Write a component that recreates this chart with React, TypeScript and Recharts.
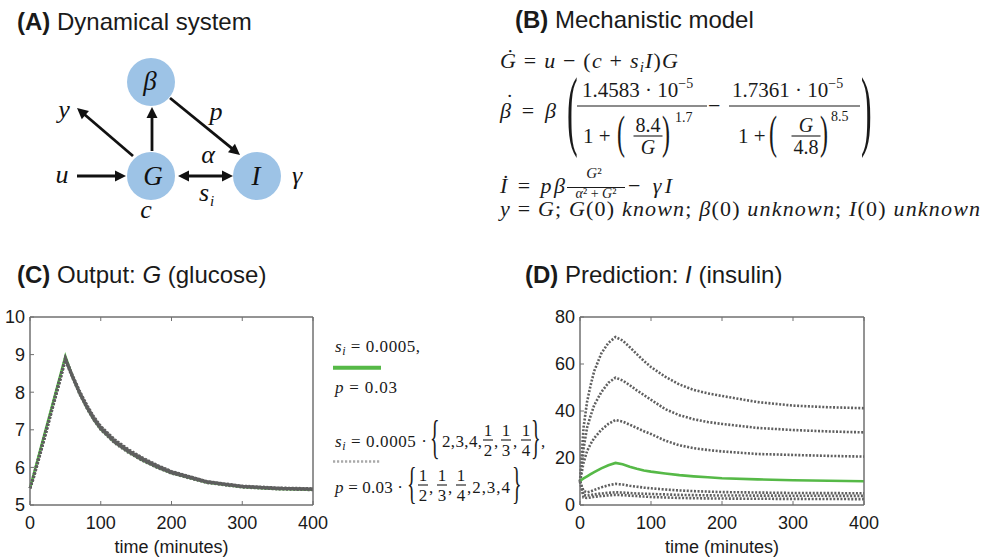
import React from 'react';
import { LineChart, Line, XAxis, YAxis, ReferenceArea } from 'recharts';

// sampling times (minutes)
const time = [0, 5, 10, 15, 20, 30, 40, 50, 60, 70, 80, 90, 100, 120, 140, 160, 180, 200, 250, 300, 350, 400];

// (C) glucose: nominal fit and the six parameter variants
const glucoseFit = [5.45, 5.8, 6.15, 6.5, 6.85, 7.55, 8.25, 8.95, 8.42, 7.98, 7.6, 7.28, 7.02, 6.66, 6.4, 6.18, 6.0, 5.85, 5.6, 5.48, 5.43, 5.41];
const glucoseVar1 = [5.45, 5.74, 6.08, 6.42, 6.77, 7.47, 8.17, 8.88, 8.42, 7.99, 7.62, 7.3, 7.04, 6.68, 6.42, 6.2, 6.02, 5.86, 5.61, 5.49, 5.44, 5.42];
const glucoseVar2 = [5.45, 5.72, 6.06, 6.4, 6.75, 7.45, 8.15, 8.86, 8.4, 7.97, 7.6, 7.28, 7.02, 6.66, 6.4, 6.18, 6.0, 5.85, 5.6, 5.48, 5.43, 5.41];
const glucoseVar3 = [5.45, 5.7, 6.04, 6.38, 6.73, 7.43, 8.13, 8.84, 8.38, 7.95, 7.58, 7.26, 7.0, 6.64, 6.38, 6.17, 5.99, 5.84, 5.59, 5.47, 5.42, 5.4];
const glucoseVar4 = [5.45, 5.78, 6.12, 6.46, 6.81, 7.51, 8.21, 8.92, 8.44, 8.01, 7.64, 7.32, 7.06, 6.7, 6.44, 6.22, 6.04, 5.88, 5.62, 5.5, 5.45, 5.43];
const glucoseVar5 = [5.45, 5.77, 6.11, 6.45, 6.8, 7.5, 8.2, 8.91, 8.45, 8.02, 7.66, 7.34, 7.08, 6.72, 6.45, 6.23, 6.05, 5.89, 5.63, 5.5, 5.45, 5.43];
const glucoseVar6 = [5.45, 5.76, 6.1, 6.44, 6.79, 7.49, 8.19, 8.9, 8.46, 8.04, 7.68, 7.36, 7.1, 6.74, 6.47, 6.25, 6.06, 5.9, 5.63, 5.51, 5.46, 5.44];

// (D) insulin predictions
const insulinFit = [10.3, 11.3, 12.2, 13.1, 14.0, 15.6, 16.9, 17.9, 17.3, 16.3, 15.4, 14.7, 14.2, 13.4, 12.7, 12.2, 11.8, 11.4, 10.9, 10.5, 10.3, 10.1];
const insulinVar1 = [10, 33, 44, 51, 57, 64.5, 69, 71.5, 70.0, 67.2, 64.2, 61.3, 58.7, 54.6, 51.3, 49.0, 47.5, 46.4, 43.8, 42.3, 41.6, 41.2];
const insulinVar2 = [10, 24, 33, 38, 42.5, 48, 52, 54.2, 53, 51, 48.8, 46.8, 44.8, 40.8, 38.2, 36.5, 35.3, 34.5, 32.8, 31.9, 31.3, 30.9];
const insulinVar3 = [10, 18, 23, 26, 28.5, 32, 34.5, 36.2, 35.5, 34.2, 32.8, 31.4, 30.2, 27.4, 25.4, 24.2, 23.4, 22.8, 21.7, 21.3, 20.9, 20.6];
const insulinVar4 = [10, 6.0, 5.4, 5.8, 6.4, 7.5, 8.4, 9.0, 8.7, 8.2, 7.8, 7.4, 7.1, 6.6, 6.2, 5.9, 5.7, 5.5, 5.3, 5.1, 5.05, 5.0];
const insulinVar5 = [10, 4.3, 4.0, 4.2, 4.5, 4.9, 5.2, 5.4, 5.3, 5.1, 4.9, 4.8, 4.7, 4.5, 4.3, 4.2, 4.1, 4.05, 4.0, 3.95, 3.9, 3.9];
const insulinVar6 = [10, 3.2, 3.0, 3.2, 3.5, 3.8, 4.1, 4.3, 4.2, 4.0, 3.8, 3.6, 3.4, 3.2, 3.0, 2.9, 2.8, 2.75, 2.65, 2.6, 2.55, 2.5];

const timeTicks = [0, 100, 200, 300, 400];
const glucoseTicks = [5, 6, 7, 8, 9, 10];
const insulinTicks = [0, 20, 40, 60, 80];

const glucoseData = time.map((t, i) => ({
  t, fit: glucoseFit[i],
  v1: glucoseVar1[i], v2: glucoseVar2[i], v3: glucoseVar3[i],
  v4: glucoseVar4[i], v5: glucoseVar5[i], v6: glucoseVar6[i],
}));
const insulinData = time.map((t, i) => ({
  t, fit: insulinFit[i],
  v1: insulinVar1[i], v2: insulinVar2[i], v3: insulinVar3[i],
  v4: insulinVar4[i], v5: insulinVar5[i], v6: insulinVar6[i],
}));
const variantKeys = ['v1', 'v2', 'v3', 'v4', 'v5', 'v6'];

const SANS = "'Liberation Sans', Arial, Helvetica, sans-serif";
const SERIF = "'Liberation Serif', 'Times New Roman', serif";
const INK = '#1a1a1a';
const FRAME = '#707070';
const GREEN = '#56b947';
const DOTS = '#5f5f5f';
const BLUE = '#9dc3e6';

// MATLAB-like box: inward ticks on all four sides plus a border rectangle
function frameAxes(yTicks: number[], yDomain: [number, number]) {
  const tickFont = { fill: INK, fontSize: 18, fontFamily: SANS };
  return [
    <XAxis key="xb" dataKey="t" type="number" domain={[0, 400]} ticks={timeTicks} interval={0}
      height={50} stroke={FRAME} tickSize={-4} tickMargin={15} tick={tickFont}
      label={{ value: 'time (minutes)', position: 'insideBottom', offset: 2, fill: INK, fontSize: 18, fontFamily: SANS }} />,
    <XAxis key="xt" xAxisId="top" orientation="top" dataKey="t" type="number" domain={[0, 400]}
      ticks={timeTicks} interval={0} height={1} stroke={FRAME} tickSize={-4} tickFormatter={() => ''} />,
    <YAxis key="yl" type="number" domain={yDomain} ticks={yTicks} interval={0} width={30}
      stroke={FRAME} tickSize={-4} tickMargin={9} tick={tickFont} />,
    <YAxis key="yr" yAxisId="right" orientation="right" type="number" domain={yDomain} ticks={yTicks}
      interval={0} width={1} stroke={FRAME} tickSize={-4} tickFormatter={() => ''} />,
    <ReferenceArea key="box" x1={0} x2={400} y1={yDomain[0]} y2={yDomain[1]} fill="none" fillOpacity={0}
      stroke={FRAME} strokeWidth={1} ifOverflow="visible" />,
  ];
}

const It = ({ children }: { children: React.ReactNode }) => <tspan fontStyle="italic">{children}</tspan>;

// tall bracket glyph, stretched vertically between top and bottom
function Tall({ x, top, bottom, ch, fs }: { x: number; top: number; bottom: number; ch: string; fs: number }) {
  const asc = 0.69 * fs, desc = 0.2 * fs;
  const sy = (bottom - top) / (asc + desc);
  const y = bottom - desc * sy;
  return <text transform={`translate(${x},${y}) scale(1,${sy})`} fontSize={fs}>{ch}</text>;
}

function Frac({ cx, bar, n, d, fs, w }: { cx: number; bar: number; n: React.ReactNode; d: React.ReactNode; fs: number; w: number }) {
  return (
    <g>
      <text x={cx} y={bar - 4} fontSize={fs} textAnchor="middle">{n}</text>
      <line x1={cx - w / 2} x2={cx + w / 2} y1={bar} y2={bar} stroke={INK} strokeWidth={1.1} />
      <text x={cx} y={bar + fs * 0.72 + 4} fontSize={fs} textAnchor="middle">{d}</text>
    </g>
  );
}

function Arrow({ x1, y1, x2, y2, both = false }: { x1: number; y1: number; x2: number; y2: number; both?: boolean }) {
  const len = Math.hypot(x2 - x1, y2 - y1);
  const ux = (x2 - x1) / len, uy = (y2 - y1) / len;
  const hl = 11, hw = 5.5;
  const head = (tx: number, ty: number, sx: number, sy: number) => {
    const bx = tx - sx * hl, by = ty - sy * hl;
    return `${tx},${ty} ${bx - sy * hw},${by + sx * hw} ${bx + sy * hw},${by - sx * hw}`;
  };
  const sx = both ? x1 + ux * hl * 0.8 : x1, sy = both ? y1 + uy * hl * 0.8 : y1;
  return (
    <g fill="#111">
      <line x1={sx} y1={sy} x2={x2 - ux * hl * 0.8} y2={y2 - uy * hl * 0.8} stroke="#111" strokeWidth={2.8} />
      <polygon points={head(x2, y2, ux, uy)} />
      {both && <polygon points={head(x1, y1, -ux, -uy)} />}
    </g>
  );
}

function Title({ x, y, tag, children }: { x: number; y: number; tag: string; children: React.ReactNode }) {
  return (
    <text x={x} y={y} fontFamily={SANS} fontSize={24} fill={INK}>
      <tspan fontWeight="bold">{tag}</tspan> {children}
    </text>
  );
}

function Overlay() {
  return (
    <svg width={985} height={558} style={{ position: 'absolute', left: 0, top: 0 }}>
      <Title x={17} y={30} tag="(A)">Dynamical system</Title>
      <Title x={515} y={28} tag="(B)">Mechanistic model</Title>
      <Title x={17} y={283} tag="(C)">Output: <It>G</It> (glucose)</Title>
      <Title x={525} y={283} tag="(D)">Prediction: <It>I</It> (insulin)</Title>

      {/* (A) diagram */}
      <Arrow x1={77} y1={176} x2={126} y2={176} />
      <Arrow x1={133} y1={156} x2={77} y2={108} />
      <Arrow x1={152} y1={151} x2={152} y2={107} />
      <Arrow x1={170} y1={98} x2={240} y2={155} />
      <Arrow x1={178} y1={176} x2={233} y2={176} both />
      <circle cx={151} cy={82} r={24} fill={BLUE} />
      <circle cx={151} cy={176} r={24} fill={BLUE} />
      <circle cx={257} cy={176} r={24} fill={BLUE} />
      <g fontFamily={SERIF} fontStyle="italic" fill="#111" textAnchor="middle">
        <text x={150} y={90} fontSize={27}>β</text>
        <text x={153} y={185} fontSize={27}>G</text>
        <text x={256} y={185} fontSize={27}>I</text>
        <text x={64} y={118} fontSize={26}>y</text>
        <text x={62} y={183} fontSize={26}>u</text>
        <text x={146} y={218} fontSize={26}>c</text>
        <text x={208} y={163} fontSize={26}>α</text>
        <text x={216} y={120} fontSize={26}>p</text>
        <text x={297} y={184} fontSize={26}>γ</text>
        <text x={204} y={201} fontSize={26}>s</text>
        <text x={212} y={206} fontSize={15}>i</text>
      </g>

      {/* (B) equations */}
      <g fontFamily={SERIF} fill={INK}>
        <text x={500} y={68} fontSize={22} textLength={178} lengthAdjust="spacing">
          <It>Ġ</It> = <It>u</It> − (<It>c</It> + <It>s</It><tspan fontSize={15} fontStyle="italic" dy={4}>i</tspan><tspan dy={-4} fontStyle="italic">I</tspan>)<It>G</It>
        </text>

        <text x={500} y={118} fontSize={22} textLength={56} lengthAdjust="spacing"><It>β</It> = <It>β</It></text>
        <text x={506} y={109} fontSize={22}>˙</text>
        <Tall x={567} top={78} bottom={157} ch="(" fs={32} />
        <text x={582} y={97} fontSize={21}>1.4583 · 10<tspan fontSize={14} dy={-9}>−5</tspan></text>
        <line x1={577} x2={707} y1={106} y2={106} stroke={INK} strokeWidth={1.2} />
        <text x={583} y={143} fontSize={21}>1 +</text>
        <Tall x={617} top={115} bottom={157} ch="(" fs={24} />
        <Frac cx={648} bar={136} n="8.4" d={<It>G</It>} fs={20} w={29} />
        <Tall x={662} top={115} bottom={157} ch=")" fs={24} />
        <text x={675} y={122} fontSize={14}>1.7</text>
        <text x={708} y={113} fontSize={22}>−</text>
        <text x={732} y={97} fontSize={21}>1.7361 · 10<tspan fontSize={14} dy={-9}>−5</tspan></text>
        <line x1={729} x2={860} y1={106} y2={106} stroke={INK} strokeWidth={1.2} />
        <text x={738} y={143} fontSize={21}>1 +</text>
        <Tall x={769} top={115} bottom={157} ch="(" fs={24} />
        <Frac cx={806} bar={136} n={<It>G</It>} d="4.8" fs={20} w={29} />
        <Tall x={820} top={115} bottom={157} ch=")" fs={24} />
        <text x={831} y={121} fontSize={14}>8.5</text>
        <Tall x={861} top={78} bottom={157} ch=")" fs={32} />

        <text x={500} y={193} fontSize={22} textLength={65} lengthAdjust="spacing"><It>İ</It> = <It>pβ</It></text>
        <text x={594} y={178} fontSize={15} textAnchor="middle"><It>G</It>²</text>
        <line x1={567} x2={625} y1={187.5} y2={187.5} stroke={INK} strokeWidth={1} />
        <text x={596} y={198} fontSize={14} textAnchor="middle"><It>α</It>² + <It>G</It>²</text>
        <text x={628} y={193} fontSize={22} textLength={44} lengthAdjust="spacing">− <It>γI</It></text>

        <text x={500} y={216} fontSize={22} textLength={480} lengthAdjust="spacing">
          <It>y</It> = <It>G</It>; <It>G</It>(0) <It>known</It>;  <It>β</It>(0) <It>unknown</It>; <It>I</It>(0) <It>unknown</It>
        </text>
      </g>

      {/* legend between (C) and (D) */}
      <g fontFamily={SERIF} fill={INK} fontSize={17}>
        <text x={335} y={352} textLength={85} lengthAdjust="spacing"><It>s</It><tspan fontSize={12} fontStyle="italic" dy={3}>i</tspan><tspan dy={-3}> = 0.0005,</tspan></text>
        <line x1={333} x2={381} y1={367.7} y2={367.7} stroke={GREEN} strokeWidth={4} />
        <text x={335} y={393} textLength={62} lengthAdjust="spacing"><It>p</It> = 0.03</text>

        <text x={335} y={447} textLength={92} lengthAdjust="spacing"><It>s</It><tspan fontSize={12} fontStyle="italic" dy={3}>i</tspan><tspan dy={-3}> = 0.0005 ·</tspan></text>
        <Tall x={430} top={420} bottom={462} ch="{" fs={20} />
        <text x={442} y={447} textLength={40} lengthAdjust="spacing">2,3,4,</text>
        <Frac cx={488} bar={440} n="1" d="2" fs={17} w={10} />
        <text x={494} y={447}>,</text>
        <Frac cx={506} bar={440} n="1" d="3" fs={17} w={10} />
        <text x={513} y={447}>,</text>
        <Frac cx={526} bar={440} n="1" d="4" fs={17} w={10} />
        <Tall x={531} top={420} bottom={462} ch="}" fs={20} />
        <text x={541} y={447}>,</text>
        <line x1={333} x2={381} y1={461.5} y2={461.5} stroke="#a9a9a9" strokeWidth={2.5} strokeDasharray="2.2 1.8" />

        <text x={335} y={493} textLength={68} lengthAdjust="spacing"><It>p</It> = 0.03 ·</text>
        <Tall x={407} top={468} bottom={507} ch="{" fs={20} />
        <Frac cx={423} bar={485} n="1" d="2" fs={17} w={10} />
        <text x={429} y={493}>,</text>
        <Frac cx={442} bar={485} n="1" d="3" fs={17} w={10} />
        <text x={448} y={493}>,</text>
        <Frac cx={461} bar={485} n="1" d="4" fs={17} w={10} />
        <text x={467} y={493} textLength={43} lengthAdjust="spacing">,2,3,4</text>
        <Tall x={512} top={468} bottom={507} ch="}" fs={20} />
      </g>
    </svg>
  );
}

export default function App() {
  return (
    <div style={{ position: 'absolute', left: 0, top: 0, width: 985, height: 558, background: '#fff', overflow: 'hidden' }}>
      <Overlay />
      <div style={{ position: 'absolute', left: 0, top: 300 }}>
        <LineChart width={330} height={258} data={glucoseData} margin={{ top: 16, right: 16, bottom: 3, left: 0 }}>
          {frameAxes(glucoseTicks, [5, 10])}
          <Line type="linear" dataKey="fit" stroke={GREEN} strokeWidth={2.6} dot={false} isAnimationActive={false} />
          {variantKeys.map((k) => (
            <Line key={k} type="linear" dataKey={k} stroke={DOTS} strokeWidth={2.6} strokeDasharray="2 1.6"
              dot={false} isAnimationActive={false} />
          ))}
        </LineChart>
      </div>
      <div style={{ position: 'absolute', left: 550, top: 300 }}>
        <LineChart width={330} height={258} data={insulinData} margin={{ top: 16, right: 15, bottom: 3, left: 0 }}>
          {frameAxes(insulinTicks, [0, 80])}
          {variantKeys.map((k) => (
            <Line key={k} type="linear" dataKey={k} stroke={DOTS} strokeWidth={2.6} strokeDasharray="2 1.6"
              dot={false} isAnimationActive={false} />
          ))}
          <Line type="linear" dataKey="fit" stroke={GREEN} strokeWidth={2.6} dot={false} isAnimationActive={false} />
        </LineChart>
      </div>
    </div>
  );
}
